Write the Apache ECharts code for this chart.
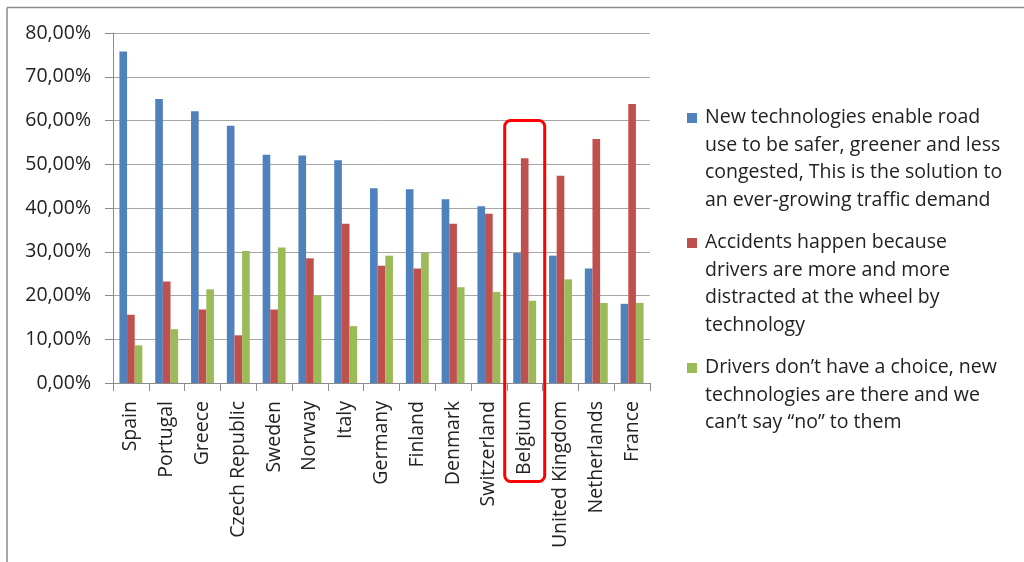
<!DOCTYPE html>
<html>
<head>
<meta charset="utf-8">
<script src="https://cdn.jsdelivr.net/npm/echarts@6/dist/echarts.min.js"></script>
<style>
  html, body { margin: 0; padding: 0; background: #fff; }
  #chart { width: 1024px; height: 562px; }
</style>
</head>
<body>
<div id="chart"></div>
<script>
// countries, sorted as in the survey chart
const countries = ["Spain", "Portugal", "Greece", "Czech Republic", "Sweden", "Norway", "Italy",
  "Germany", "Finland", "Denmark", "Switzerland", "Belgium", "United Kingdom", "Netherlands", "France"];

// share of answers, in percent
const newTech   = [75.8, 64.9, 62.1, 58.8, 52.2, 52.0, 50.9, 44.5, 44.3, 42.0, 40.4, 29.7, 29.1, 26.2, 18.1];
const accidents = [15.6, 23.2, 16.8, 10.9, 16.8, 28.5, 36.4, 26.8, 26.2, 36.4, 38.7, 51.4, 47.4, 55.8, 63.8];
const noChoice  = [8.6, 12.3, 21.4, 30.2, 31.0, 20.0, 13.0, 29.1, 29.7, 21.9, 20.8, 18.8, 23.7, 18.3, 18.3];

const seriesNames = [
  "New technologies enable road use to be safer, greener and less congested, This is the solution to an ever-growing traffic demand",
  "Accidents happen because drivers are more and more distracted at the wheel by technology",
  "Drivers don\u2019t have a choice, new technologies are there and we can\u2019t say \u201cno\u201d to them"
];
// legend text as it is wrapped in the picture
const legendLines = [
  ["New technologies enable road", "use to be safer, greener and less", "congested, This is the solution to", "an ever-growing traffic demand"],
  ["Accidents happen because", "drivers are more and more", "distracted at the wheel by", "technology"],
  ["Drivers don\u2019t have a choice, new", "technologies are there and we", "can\u2019t say \u201cno\u201d to them", " "]
];

const yTicks = { min: 0, max: 80, interval: 10 };
const highlighted = "Belgium";

const colors = ["#4F81BD", "#C0504D", "#9BBB59"];
const font = "'Open Sans', Lato, sans-serif";
const fontSize = 19.5;

let chart = echarts.init(document.getElementById("chart"));

let seriesArr = [newTech, accidents, noChoice].map((vals, i) => ({
  name: seriesNames[i],
  type: "bar",
  data: vals,
  barGap: "0%",
  barCategoryGap: "36%",
  itemStyle: { color: colors[i] },
  animation: false
}));

let option = {
  animation: false,
  textStyle: { fontFamily: font },
  grid: { left: 113, right: 374, top: 33, bottom: 179 },
  legend: {
    orient: "vertical",
    left: 687,
    top: 104,
    padding: 0,
    itemGap: 15,
    itemWidth: 13,
    itemHeight: 110,
    // square at the height of the first text line, specks keep the box size
    icon: "path://M0,0h0.1v0.1h-0.1z M0,9h10v10h-10z M12.9,109.9h0.1v0.1h-0.1z",
    selectedMode: false,
    data: seriesNames,
    formatter: function (name) {
      return legendLines[seriesNames.indexOf(name)].join("\n");
    },
    textStyle: { fontFamily: font, fontSize: fontSize, color: "#222", lineHeight: 27.5 }
  },
  xAxis: {
    type: "category",
    data: countries,
    axisLine: { lineStyle: { color: "#8c8c8c", width: 1 } },
    axisTick: { show: true, length: 8, lineStyle: { color: "#8c8c8c" } },
    axisLabel: {
      interval: 0,
      rotate: 90,
      margin: 18,
      fontFamily: font,
      fontSize: fontSize,
      color: "#222"
    }
  },
  yAxis: {
    type: "value",
    min: yTicks.min,
    max: yTicks.max,
    interval: yTicks.interval,
    axisLine: { show: true, lineStyle: { color: "#8c8c8c", width: 1 } },
    axisTick: { show: true, length: 8, lineStyle: { color: "#8c8c8c" } },
    splitLine: { show: true, lineStyle: { color: "#a6a6a6", width: 1 } },
    axisLabel: {
      margin: 22,
      fontFamily: font,
      fontSize: fontSize,
      color: "#222",
      formatter: function (v) {
        return v.toFixed(2).replace(".", ",") + "%";
      }
    }
  },
  series: seriesArr
};
chart.setOption(option);

// red frame around the highlighted country, plus the outer chart border
let cx = chart.convertToPixel({ xAxisIndex: 0 }, highlighted);
let topY = chart.convertToPixel({ yAxisIndex: 0 }, 60);
chart.setOption({
  graphic: [
    {
      type: "rect",
      shape: { x: cx - 20, y: topY, width: 40, height: 361, r: 6 },
      style: { fill: "none", stroke: "#ff0000", lineWidth: 3 },
      z: 100
    },
    {
      type: "line",
      shape: { x1: 7, y1: 7.5, x2: 1024, y2: 7.5 },
      style: { stroke: "#8c8c8c", lineWidth: 1.5 }
    },
    {
      type: "line",
      shape: { x1: 7, y1: 7.5, x2: 7, y2: 562 },
      style: { stroke: "#8c8c8c", lineWidth: 1.5 }
    }
  ]
});
</script>
</body>
</html>
